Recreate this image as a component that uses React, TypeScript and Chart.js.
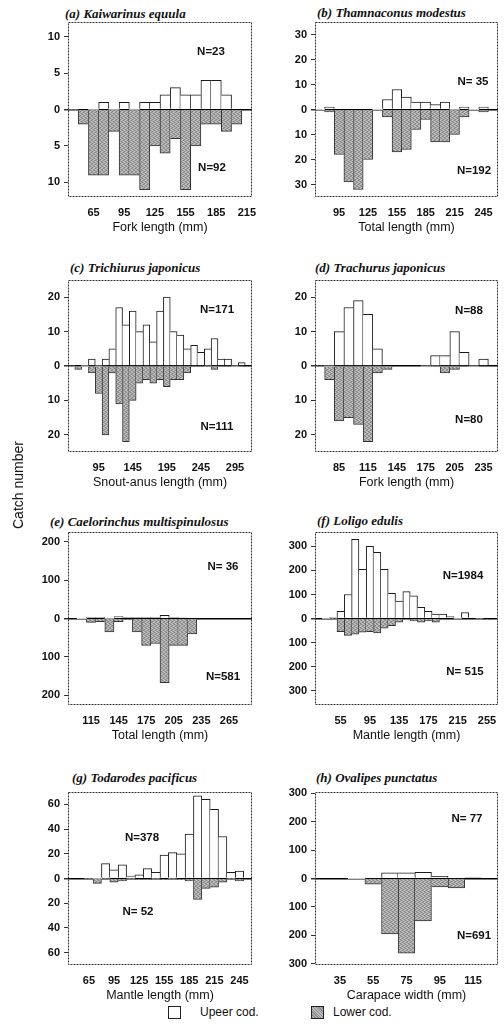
import React, { useEffect, useRef } from "react";
import { Chart, registerables } from "chart.js";

Chart.register(...registerables);

// ---------- data ----------
const aCats = [45, 55, 65, 75, 85, 95, 105, 115, 125, 135, 145, 155, 165, 175, 185, 195, 205, 215];
const aUpper = [0, 0, 0, 1, 0, 1, 0, 1, 1, 2, 3, 2, 2, 4, 4, 2, 0, 0];
const aLower = [0, 2, 9, 9, 3, 9, 9, 11, 5, 6, 4, 11, 5, 2, 2, 3, 2, 0];
const aXLabels = [65, 95, 125, 155, 185, 215];
const aYTicks = [-10, -5, 0, 5, 10];

const bCats = [75, 85, 95, 105, 115, 125, 135, 145, 155, 165, 175, 185, 195, 205, 215, 225, 235, 245, 255];
const bUpper = [0, 1, 0, 0, 0, 0, 0, 4, 8, 5, 3, 3, 2, 3, 0, 1, 0, 1, 0];
const bLower = [0, 1, 18, 29, 32, 20, 0, 3, 17, 16, 8, 4, 13, 13, 10, 3, 0, 1, 0];
const bXLabels = [95, 125, 155, 185, 215, 245];
const bYTicks = [-30, -20, -10, 0, 10, 20, 30];

const cCats = [55, 65, 75, 85, 95, 105, 115, 125, 135, 145, 155, 165, 175, 185, 195, 205, 215, 225, 235, 245, 255, 265, 275, 285, 295, 305, 315];
const cUpper = [0, 0, 0, 2, 0, 2, 5, 17, 12, 16, 10, 12, 7, 16, 20, 10, 9, 5, 6, 4, 5, 8, 2, 2, 0, 1, 0];
const cLower = [0, 1, 0, 2, 8, 20, 2, 11, 22, 10, 5, 4, 5, 4, 6, 4, 4, 2, 0, 0, 0, 1, 0, 0, 0, 0, 0];
const cXLabels = [95, 145, 195, 245, 295];
const cYTicks = [-20, -10, 0, 10, 20];

const dCats = [65, 75, 85, 95, 105, 115, 125, 135, 145, 155, 165, 175, 185, 195, 205, 215, 225, 235, 245];
const dUpper = [0, 0, 10, 17, 19, 15, 5, 0, 0, 0, 0, 0, 3, 3, 10, 4, 0, 2, 0];
const dLower = [0, 4, 16, 15, 17, 22, 2, 1, 0, 0, 0, 0, 0, 2, 1, 0, 0, 0, 0];
const dXLabels = [85, 115, 145, 175, 205, 235];
const dYTicks = [-20, -10, 0, 10, 20];

const eCats = [95, 105, 115, 125, 135, 145, 155, 165, 175, 185, 195, 205, 215, 225, 235, 245, 255, 265, 275, 285];
const eUpper = [0, 0, 3, 3, 0, 5, 3, 3, 3, 3, 8, 3, 2, 0, 0, 0, 0, 0, 0, 0];
const eLower = [0, 0, 10, 8, 35, 8, 3, 35, 70, 65, 167, 70, 70, 40, 0, 0, 0, 0, 0, 0];
const eXLabels = [115, 145, 175, 205, 235, 265];
const eYTicks = [-200, -100, 0, 100, 200];

const fCats = [25, 35, 45, 55, 65, 75, 85, 95, 105, 115, 125, 135, 145, 155, 165, 175, 185, 195, 205, 215, 225, 235, 245, 255, 265];
const fUpper = [0, 0, 5, 30, 100, 330, 205, 300, 275, 205, 105, 72, 112, 94, 47, 30, 18, 18, 8, 0, 25, 0, 0, 0, 0];
const fLower = [0, 0, 0, 55, 70, 65, 57, 55, 60, 40, 30, 15, 5, 10, 15, 10, 15, 5, 3, 0, 0, 0, 0, 5, 0];
const fXLabels = [55, 95, 135, 175, 215, 255];
const fYTicks = [-300, -200, -100, 0, 100, 200, 300];

const gCats = [45, 55, 65, 75, 85, 95, 105, 115, 125, 135, 145, 155, 165, 175, 185, 195, 205, 215, 225, 235, 245, 255];
const gUpper = [0, 0, 0, 0, 12, 7, 11, 2, 3, 8, 5, 19, 21, 20, 36, 67, 64, 56, 34, 5, 6, 0];
const gLower = [0, 0, 0, 4, 0, 3, 2, 0, 1, 1, 0, 1, 0, 1, 2, 17, 8, 7, 3, 0, 2, 0];
const gXLabels = [65, 95, 125, 155, 185, 215, 245];
const gYTicks = [-60, -40, -20, 0, 20, 40, 60];

const hCats = [25, 35, 45, 55, 65, 75, 85, 95, 105, 115, 125];
const hUpper = [0, 0, 0, 2, 20, 20, 22, 8, 2, 3, 0];
const hLower = [0, 0, 0, 20, 195, 263, 150, 30, 33, 0, 0];
const hXLabels = [35, 55, 75, 95, 115];
const hYTicks = [-300, -200, -100, 0, 100, 200, 300];

// ---------- layout ----------
type Panel = {
  title: string;
  xTitle: string;
  cats: number[];
  upper: number[];
  lower: number[];
  xLabels: number[];
  yTicks: number[];
  yMax: number;
  box: [number, number, number, number];
  titlePos: [number, number];
  nUp: [string, number, number];
  nLow: [string, number, number];
};

const PANELS: Panel[] = [
  { title: "(a) Kaiwarinus equula", xTitle: "Fork length (mm)", cats: aCats, upper: aUpper, lower: aLower, xLabels: aXLabels, yTicks: aYTicks, yMax: 12,
    box: [68, 22, 252, 197], titlePos: [65, 14], nUp: ["N=23", 211, 52], nLow: ["N=92", 212, 168] },
  { title: "(b) Thamnaconus modestus", xTitle: "Total length (mm)", cats: bCats, upper: bUpper, lower: bLower, xLabels: bXLabels, yTicks: bYTicks, yMax: 35,
    box: [315, 22, 498, 197], titlePos: [317, 13], nUp: ["N= 35", 473, 82], nLow: ["N=192", 474, 171] },
  { title: "(c) Trichiurus japonicus", xTitle: "Snout-anus length (mm)", cats: cCats, upper: cUpper, lower: cLower, xLabels: cXLabels, yTicks: cYTicks, yMax: 25,
    box: [68, 280, 252, 452], titlePos: [70, 268], nUp: ["N=171", 217, 310], nLow: ["N=111", 217, 427] },
  { title: "(d) Trachurus japonicus", xTitle: "Fork length (mm)", cats: dCats, upper: dUpper, lower: dLower, xLabels: dXLabels, yTicks: dYTicks, yMax: 25,
    box: [315, 280, 498, 452], titlePos: [315, 268], nUp: ["N=88", 469, 311], nLow: ["N=80", 469, 420] },
  { title: "(e) Caelorinchus multispinulosus", xTitle: "Total length (mm)", cats: eCats, upper: eUpper, lower: eLower, xLabels: eXLabels, yTicks: eYTicks, yMax: 225,
    box: [68, 532, 252, 705], titlePos: [50, 522], nUp: ["N= 36", 223, 567], nLow: ["N=581", 223, 677] },
  { title: "(f) Loligo edulis", xTitle: "Mantle length (mm)", cats: fCats, upper: fUpper, lower: fLower, xLabels: fXLabels, yTicks: fYTicks, yMax: 360,
    box: [315, 532, 498, 705], titlePos: [317, 521], nUp: ["N=1984", 463, 576], nLow: ["N= 515", 465, 672] },
  { title: "(g) Todarodes pacificus", xTitle: "Mantle length (mm)", cats: gCats, upper: gUpper, lower: gLower, xLabels: gXLabels, yTicks: gYTicks, yMax: 70,
    box: [68, 792, 252, 965], titlePos: [72, 778], nUp: ["N=378", 142, 838], nLow: ["N= 52", 138, 912] },
  { title: "(h) Ovalipes punctatus", xTitle: "Carapace width (mm)", cats: hCats, upper: hUpper, lower: hLower, xLabels: hXLabels, yTicks: hYTicks, yMax: 305,
    box: [315, 792, 498, 965], titlePos: [316, 778], nUp: ["N= 77", 467, 819], nLow: ["N=691", 474, 936] },
];

const PAD_L = 50;
const PAD_T = 4;
const PAD_R = 5;
const X_H = 38;
const SANS = '"Liberation Sans", Arial, sans-serif';
const SERIF = '"Liberation Serif", "Times New Roman", serif';

function geom(p: Panel) {
  const [l, t, r, b] = p.box;
  return { left: l - PAD_L, top: t - PAD_T, width: r - l + PAD_L + PAD_R, height: b - t + PAD_T + X_H };
}

function makePattern(): CanvasPattern | string {
  const c = document.createElement("canvas");
  c.width = 4;
  c.height = 4;
  const x = c.getContext("2d");
  if (!x) return "#a0a0a0";
  x.fillStyle = "#a6a6a6";
  x.fillRect(0, 0, 4, 4);
  x.fillStyle = "#808080";
  [[0, 0], [2, 1], [1, 2], [3, 3]].forEach(([i, j]) => x.fillRect(i, j, 1, 1));
  x.fillStyle = "#c8c8c8";
  [[2, 0], [0, 1], [3, 2], [1, 3]].forEach(([i, j]) => x.fillRect(i, j, 1, 1));
  return x.createPattern(c, "repeat") || "#a0a0a0";
}

function borderFor(vals: number[], up: boolean) {
  return (ctx: any) => {
    const i = ctx.dataIndex;
    const v = vals[i] ?? 0;
    const prev = i > 0 ? vals[i - 1] : 0;
    const next = i < vals.length - 1 ? vals[i + 1] : 0;
    return {
      top: up ? 1 : 0,
      bottom: up ? 0 : 1,
      left: prev < v ? 1 : 0,
      right: next <= v ? 1 : 0,
    };
  };
}

function buildChart(canvas: HTMLCanvasElement, p: Panel, pat: CanvasPattern | string) {
  const g = geom(p);
  const boxPlugin = {
    id: "plotBox",
    afterDraw(chart: any) {
      const { ctx, chartArea: a } = chart;
      ctx.save();
      ctx.strokeStyle = "#333";
      ctx.lineWidth = 1;
      ctx.setLineDash([2, 1]);
      ctx.strokeRect(Math.round(a.left) + 0.5, Math.round(a.top) + 0.5, Math.round(a.right - a.left) - 1, Math.round(a.bottom - a.top) - 1);
      ctx.restore();
    },
  };
  const nPlugin = {
    id: "nLabels",
    afterDraw(chart: any) {
      const ctx = chart.ctx;
      ctx.save();
      ctx.font = `bold 11.5px ${SANS}`;
      ctx.fillStyle = "#111";
      ctx.textAlign = "center";
      ctx.textBaseline = "middle";
      [p.nUp, p.nLow].forEach(([t, x, y]) => ctx.fillText(t, x - g.left, y - g.top));
      ctx.restore();
    },
  };
  return new Chart(canvas, {
    type: "bar",
    data: {
      labels: p.cats.map(String),
      datasets: [
        {
          label: "Upeer cod.",
          data: p.upper,
          backgroundColor: "#ffffff",
          borderColor: "#1a1a1a",
          borderWidth: borderFor(p.upper, true) as any,
          borderSkipped: false,
          barPercentage: 1,
          categoryPercentage: 1,
          grouped: false,
        },
        {
          label: "Lower cod.",
          data: p.lower.map((v) => -v),
          backgroundColor: pat as any,
          borderColor: "#333333",
          borderWidth: borderFor(p.lower, false) as any,
          borderSkipped: false,
          barPercentage: 1,
          categoryPercentage: 1,
          grouped: false,
        },
      ],
    },
    options: {
      responsive: false,
      maintainAspectRatio: false,
      animation: false,
      layout: { padding: { left: 0, top: PAD_T, right: PAD_R, bottom: 0 } },
      plugins: { legend: { display: false }, tooltip: { enabled: false }, title: { display: false } },
      scales: {
        x: {
          type: "category",
          offset: true,
          grid: { display: false, drawTicks: false, tickLength: 0 },
          border: { display: false },
          ticks: {
            autoSkip: false,
            maxRotation: 0,
            minRotation: 0,
            padding: 9,
            color: "#111",
            font: { family: SANS, size: 11, weight: "bold" },
            callback: (_v: any, i: number) => (p.xLabels.includes(p.cats[i]) ? String(p.cats[i]) : ""),
          },
          title: {
            display: true,
            text: p.xTitle,
            color: "#111",
            font: { family: SANS, size: 12.5 },
            padding: { top: 0, bottom: 0 },
          },
          afterFit: (s: any) => {
            s.height = X_H;
            s.paddingLeft = 0;
            s.paddingRight = 0;
          },
        },
        y: {
          min: -p.yMax,
          max: p.yMax,
          z: 1,
          afterBuildTicks: (s: any) => {
            s.ticks = p.yTicks.map((v) => ({ value: v }));
          },
          afterFit: (s: any) => {
            s.width = PAD_L;
            s.paddingTop = 0;
            s.paddingBottom = 0;
          },
          border: { display: false },
          grid: {
            color: (c: any) => (c.tick && c.tick.value === 0 ? "#000" : "rgba(0,0,0,0)"),
            lineWidth: (c: any) => (c.tick && c.tick.value === 0 ? 1.5 : 1),
            tickColor: "#333",
            tickLength: 4,
            drawTicks: true,
          },
          ticks: {
            padding: 4,
            color: "#111",
            font: { family: SANS, size: 11, weight: "bold" },
            callback: (v: any) => String(Math.abs(Number(v))),
          },
        },
      },
    } as any,
    plugins: [boxPlugin, nPlugin],
  });
}

export default function App() {
  const refs = useRef<(HTMLCanvasElement | null)[]>([]);
  useEffect(() => {
    const pat = makePattern();
    const charts = PANELS.map((p, i) => buildChart(refs.current[i] as HTMLCanvasElement, p, pat));
    return () => charts.forEach((c) => c.destroy());
  }, []);

  return (
    <div style={{ position: "absolute", left: 0, top: 0, width: 504, height: 1027, background: "#fff", overflow: "hidden" }}>
      {PANELS.map((p, i) => {
        const g = geom(p);
        return (
          <React.Fragment key={p.title}>
            <div
              style={{
                position: "absolute",
                left: p.titlePos[0],
                top: p.titlePos[1] - 9,
                height: 18,
                lineHeight: "18px",
                fontFamily: SERIF,
                fontStyle: "italic",
                fontWeight: "bold",
                fontSize: 13,
                color: "#111",
                whiteSpace: "nowrap",
              }}
            >
              {p.title}
            </div>
            <canvas
              ref={(el) => {
                refs.current[i] = el;
              }}
              width={g.width}
              height={g.height}
              style={{ position: "absolute", left: g.left, top: g.top, width: g.width, height: g.height }}
            />
          </React.Fragment>
        );
      })}
      <div
        style={{
          position: "absolute",
          left: 18,
          top: 485,
          transform: "translate(-50%, -50%) rotate(-90deg)",
          fontFamily: SANS,
          fontSize: 14,
          color: "#111",
          whiteSpace: "nowrap",
        }}
      >
        Catch number
      </div>
      <div style={{ position: "absolute", left: 168, top: 1006, width: 11, height: 11, border: "1px solid #222", background: "#fff" }} />
      <div style={{ position: "absolute", left: 200, top: 1004, lineHeight: "16px", fontFamily: SANS, fontSize: 12, color: "#111", whiteSpace: "nowrap" }}>
        Upeer cod.
      </div>
      <div
        style={{
          position: "absolute",
          left: 311,
          top: 1006,
          width: 11,
          height: 11,
          border: "1px solid #222",
          background: "repeating-linear-gradient(45deg, #8a8a8a 0px, #8a8a8a 1px, #bdbdbd 1px, #bdbdbd 2px)",
        }}
      />
      <div style={{ position: "absolute", left: 333, top: 1004, lineHeight: "16px", fontFamily: SANS, fontSize: 12, color: "#111", whiteSpace: "nowrap" }}>
        Lower cod.
      </div>
    </div>
  );
}
